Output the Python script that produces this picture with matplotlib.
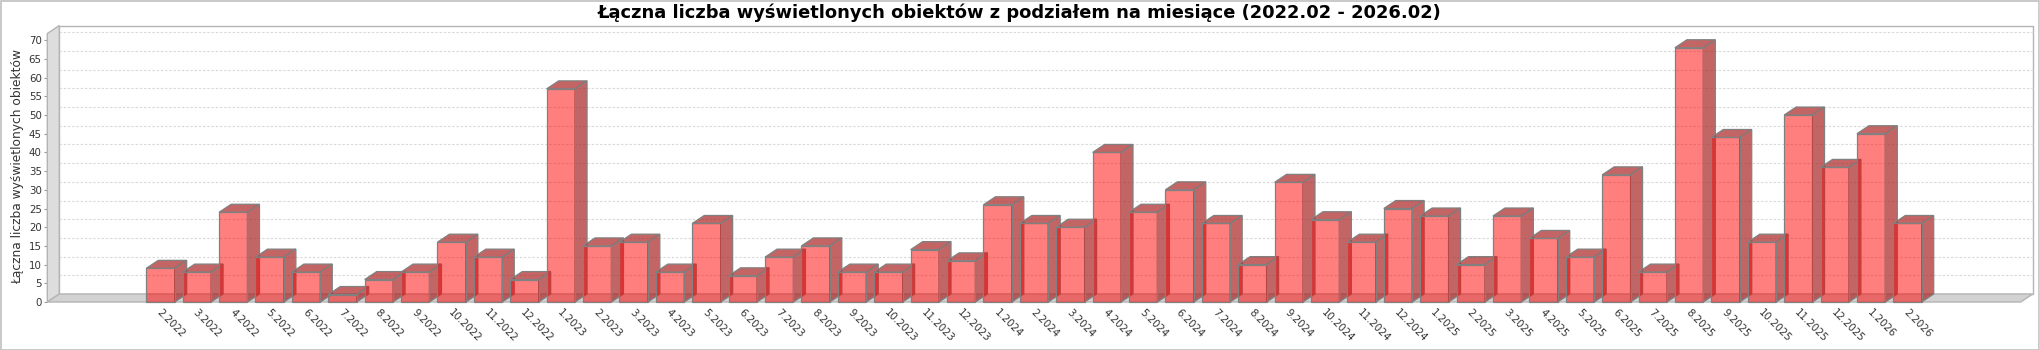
import matplotlib
matplotlib.use("Agg")
import matplotlib.pyplot as plt
from matplotlib.patches import Polygon, Rectangle

plt.rcParams['font.family'] = ['DejaVu Sans']

# Monthly counts of displayed objects
months = [
    "2.2022", "3.2022", "4.2022", "5.2022", "6.2022", "7.2022", "8.2022", "9.2022",
    "10.2022", "11.2022", "12.2022", "1.2023", "2.2023", "3.2023", "4.2023", "5.2023",
    "6.2023", "7.2023", "8.2023", "9.2023", "10.2023", "11.2023", "12.2023", "1.2024",
    "2.2024", "3.2024", "4.2024", "5.2024", "6.2024", "7.2024", "8.2024", "9.2024",
    "10.2024", "11.2024", "12.2024", "1.2025", "2.2025", "3.2025", "4.2025", "5.2025",
    "6.2025", "7.2025", "8.2025", "9.2025", "10.2025", "11.2025", "12.2025", "1.2026",
    "2.2026",
]
counts = [
    9, 8, 24, 12, 8, 2, 6, 8, 16, 12, 6, 57, 15, 16, 8, 21,
    7, 12, 15, 8, 8, 14, 11, 26, 21, 20, 40, 24, 30, 21, 10, 32,
    22, 16, 25, 23, 10, 23, 17, 12, 34, 8, 68, 44, 16, 50, 36, 45,
    21,
]
y_ticks = list(range(0, 71, 5))

title = "Łączna liczba wyświetlonych obiektów z podziałem na miesiące (2022.02 - 2026.02)"
ylabel = "Łączna liczba wyświetlonych obiektów"

W, H, DPI = 2040, 350, 100
fig = plt.figure(figsize=(W / DPI, H / DPI), dpi=DPI)

# front plane of the 3D plot, in pixels
left_px, right_px = 47.3, 2020.7
base_px = 302.0
y_max = 71.8
px_per_unit_y = 3.739
top_px = base_px - y_max * px_per_unit_y
depth_x_px, depth_y_px = 12.0, 8.0

ax = fig.add_axes([left_px / W, (H - base_px) / H,
                   (right_px - left_px) / W, (base_px - top_px) / H])
n = len(counts)
x_min, x_max = -3.11, n - 1 + 3.11
ax.set_xlim(x_min, x_max)
ax.set_ylim(0, y_max)
ax.patch.set_visible(False)
for s in ax.spines.values():
    s.set_visible(False)

# depth offsets in data units
dx = depth_x_px / ((right_px - left_px) / (x_max - x_min))
dy = depth_y_px / px_per_unit_y

edge_wall = '#b4b4b4'

# back wall
ax.add_patch(Rectangle((x_min + dx, dy), x_max - x_min, y_max, facecolor='white',
                       edgecolor=edge_wall, lw=1.0, clip_on=False, zorder=0))
# gridlines on the back wall
for t in y_ticks[1:]:
    ax.plot([x_min + dx, x_max + dx], [t + dy, t + dy], color='#dadada', lw=0.8,
            linestyle=(0, (2.2, 1.6)), clip_on=False, zorder=1)
# left wall
ax.add_patch(Polygon([(x_min, 0), (x_min + dx, dy), (x_min + dx, y_max + dy), (x_min, y_max)],
                     closed=True, facecolor='#dddddd', edgecolor=edge_wall, lw=1.0,
                     clip_on=False, zorder=2))
# floor
ax.add_patch(Polygon([(x_min, 0), (x_max, 0), (x_max + dx, dy), (x_min + dx, dy)],
                     closed=True, facecolor='#d2d2d2', edgecolor=edge_wall, lw=1.0,
                     clip_on=False, zorder=2))

# bars
bw = 0.78
edge_bar = '#808080'
for i, v in enumerate(counts):
    x0, x1 = i - bw / 2, i + bw / 2
    z = 3 + i * 0.01
    side = Polygon([(x1, 0), (x1 + dx, dy), (x1 + dx, v + dy), (x1, v)], closed=True,
                   facecolor=(0.67, 0.14, 0.14, 0.70), edgecolor=edge_bar, lw=0.9,
                   clip_on=False, zorder=z)
    top = Polygon([(x0, v), (x0 + dx, v + dy), (x1 + dx, v + dy), (x1, v)], closed=True,
                  facecolor=(0.67, 0.14, 0.14, 0.70), edgecolor=edge_bar, lw=0.9,
                  clip_on=False, zorder=z)
    front = Rectangle((x0, 0), bw, v, facecolor=(1.0, 0.0, 0.0, 0.5),
                      edgecolor=edge_bar, lw=0.9, clip_on=False, zorder=z + 0.005)
    ax.add_patch(side)
    ax.add_patch(top)
    ax.add_patch(front)

# axes ticks
ax.set_yticks(y_ticks)
ax.set_yticklabels([str(t) for t in y_ticks])
ax.tick_params(axis='y', labelsize=7.4, colors='#333333', length=2.5, width=0.8,
               pad=1.5, color='#9a9a9a')
ax.set_xticks(range(n))
ax.set_xticklabels([])
ax.tick_params(axis='x', length=0)
for i, lab in enumerate(months):
    ax.annotate(lab, xy=(i, 0), xytext=(1.5, -5), textcoords='offset pixels',
                rotation=-45, rotation_mode='anchor', ha='left', va='top',
                fontsize=7.4, color='#333333', annotation_clip=False)

# title and axis label
fig.text(0.5, 1 - 12.5 / H, title, ha='center', va='center', fontsize=12.9,
         fontweight='bold', color='black')
fig.text(18 / W, 1 - 166 / H, ylabel, ha='center', va='center', rotation=90,
         fontsize=8.8, color='#333333')

# outer frame
fig.patches.append(Rectangle((0.5 / W, 0.5 / H), 1 - 1.5 / W, 1 - 1.5 / H,
                             transform=fig.transFigure, fill=False,
                             edgecolor='#c0c0c0', lw=1.2))

fig.savefig("out.png", dpi=DPI)
